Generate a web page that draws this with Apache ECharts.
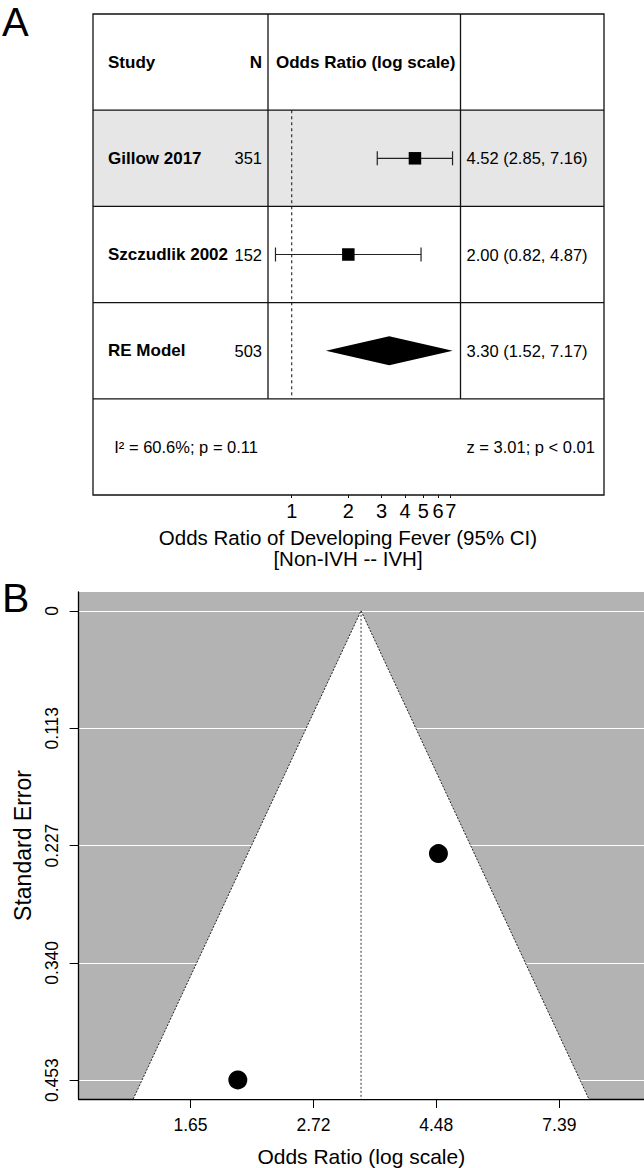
<!DOCTYPE html>
<html><head><meta charset="utf-8">
<script src="https://cdn.jsdelivr.net/npm/echarts@6/dist/echarts.min.js"></script>
<style>html,body{margin:0;padding:0;background:#fff}#c{width:644px;height:1168px}</style>
</head><body><div id="c"></div>
<script>
// ---------- data ----------
const studyNames = ['Gillow 2017', 'Szczudlik 2002'];
const studyN = [351, 152];
const studyOR = [4.52, 2.00];
const studyLower = [2.85, 0.82];
const studyUpper = [7.16, 4.87];
const modelName = 'RE Model';
const modelN = 503;
const modelOR = [3.30];
const modelLower = [1.52];
const modelUpper = [7.17];
const hetText = 'I² = 60.6%; p = 0.11';
const testText = 'z = 3.01; p < 0.01';
const forestTickLabels = [1, 2, 3, 4, 5, 6, 7];
const studySE = [0.235, 0.454];
const funnelXTickLabels = ['1.65', '2.72', '4.48', '7.39'];
const seTickValues = [0, 0.1136, 0.2272, 0.3407, 0.4543];
const seTickLabels = ['0', '0.113', '0.227', '0.340', '0.453'];

// ---------- layout ----------
const FONT = '"Liberation Sans", Arial, Helvetica, sans-serif';
const T_LEFT = 93, T_RIGHT = 604, T_TOP = 14, ROW_H = 96.2, NROWS = 5;
const P_LEFT = 268, P_RIGHT = 460.5;
const forestLnMin = -0.290, forestLnMax = 2.066;
const funnelLnMin = 0.046, funnelLnMax = 2.344;
const seMin = -0.0182, seMax = 0.4725;

const rowKeys = ['header', ...studyNames, modelName, 'stats'];
const ln = Math.log;
const fmt2 = v => v.toFixed(2);
const ciTexts = ['',
  ...studyOR.map((v, i) => `${fmt2(v)} (${fmt2(studyLower[i])}, ${fmt2(studyUpper[i])})`),
  `${fmt2(modelOR[0])} (${fmt2(modelLower[0])}, ${fmt2(modelUpper[0])})`,
  testText];

const chart = echarts.init(document.getElementById('c'), null, {renderer: 'svg'});

const graphics = [];
// gray shading of first study row
graphics.push({type: 'rect', z: 0, shape: {x: T_LEFT, y: T_TOP + ROW_H, width: T_RIGHT - T_LEFT, height: ROW_H},
  style: {fill: '#e6e6e6'}});
// frame
graphics.push({type: 'rect', z: 10, shape: {x: T_LEFT, y: T_TOP, width: T_RIGHT - T_LEFT, height: ROW_H * NROWS},
  style: {fill: 'none', stroke: '#111', lineWidth: 1.3}});
for (let k = 1; k < NROWS; k++) {
  graphics.push({type: 'line', z: 10, shape: {x1: T_LEFT, y1: T_TOP + k * ROW_H, x2: T_RIGHT, y2: T_TOP + k * ROW_H},
    style: {stroke: '#111', lineWidth: 1.3}});
}
[P_LEFT, P_RIGHT].forEach(x => graphics.push({type: 'line', z: 10,
  shape: {x1: x, y1: T_TOP, x2: x, y2: T_TOP + 4 * ROW_H}, style: {stroke: '#111', lineWidth: 1.3}}));
// header of plot column
graphics.push({type: 'text', z: 10, x: 276, y: T_TOP + ROW_H / 2,
  style: {text: 'Odds Ratio (log scale)', font: `bold 17px ${FONT}`, fill: '#000', textAlign: 'left', textVerticalAlign: 'middle'}});
// forest axis title
graphics.push({type: 'text', z: 10, x: 348, y: 537,
  style: {text: 'Odds Ratio of Developing Fever (95% CI)', font: `20.5px ${FONT}`, fill: '#000', textAlign: 'center', textVerticalAlign: 'middle'}});
graphics.push({type: 'text', z: 10, x: 348, y: 558,
  style: {text: '[Non-IVH -- IVH]', font: `20.5px ${FONT}`, fill: '#000', textAlign: 'center', textVerticalAlign: 'middle'}});
// panel letters
graphics.push({type: 'text', z: 10, x: 2, y: 22,
  style: {text: 'A', font: `40px ${FONT}`, fill: '#000', textAlign: 'left', textVerticalAlign: 'middle'}});
graphics.push({type: 'text', z: 10, x: 2, y: 598,
  style: {text: 'B', font: `41px ${FONT}`, fill: '#000', textAlign: 'left', textVerticalAlign: 'middle'}});

const option = {
  animation: false,
  backgroundColor: '#fff',
  textStyle: {fontFamily: FONT},
  graphic: graphics,
  grid: [
    {left: P_LEFT, top: T_TOP, width: P_RIGHT - P_LEFT, height: ROW_H * NROWS, containLabel: false},
    {left: 78.6, right: 0, top: 592, bottom: 69, show: true, backgroundColor: '#b3b3b3', borderWidth: 0}
  ],
  xAxis: [
    {type: 'value', gridIndex: 0, min: forestLnMin, max: forestLnMax, position: 'bottom',
      axisLine: {show: false}, splitLine: {show: false},
      axisTick: {show: true, inside: false, length: 3, lineStyle: {color: '#111'}, customValues: forestTickLabels.map(v => ln(v))},
      axisLabel: {show: true, margin: 6, fontSize: 20, color: '#000', fontFamily: FONT,
        customValues: forestTickLabels.map(v => ln(v)), formatter: v => String(Math.round(Math.exp(v)))}},
    {type: 'value', gridIndex: 1, min: funnelLnMin, max: funnelLnMax, position: 'bottom',
      axisLine: {show: true, onZero: false, lineStyle: {color: '#000', width: 1.3}},
      splitLine: {show: false},
      axisTick: {show: true, length: 9, lineStyle: {color: '#000'}, customValues: funnelXTickLabels.map(s => ln(parseFloat(s)))},
      axisLabel: {margin: 17, fontSize: 17.5, color: '#000', fontFamily: FONT,
        customValues: funnelXTickLabels.map(s => ln(parseFloat(s))),
        formatter: v => Math.exp(v).toFixed(2)},
      name: 'Odds Ratio (log scale)', nameLocation: 'middle', nameGap: 47,
      nameTextStyle: {fontSize: 21, color: '#000', fontFamily: FONT}}
  ],
  yAxis: [
    {type: 'category', gridIndex: 0, inverse: true, data: rowKeys, position: 'left',
      axisLine: {show: false}, axisTick: {show: false}, splitLine: {show: false},
      axisLabel: {interval: 0, margin: 6, color: '#000', fontSize: 16.5, fontFamily: FONT,
        formatter: (v, i) => {
          if (i === 0) return `{nb|Study}{nbr|N}`;
          if (i === NROWS - 1) return `{stat|${hetText}}`;
          const name = i <= studyNames.length ? studyNames[i - 1] : modelName;
          const n = i <= studyNames.length ? studyN[i - 1] : modelN;
          return `{nb|${name}}{n|${n}}`;
        },
        rich: {
          nb: {width: 120, align: 'left', fontWeight: 'bold', fontSize: 17, color: '#000', fontFamily: FONT},
          nbr: {width: 34, align: 'right', fontWeight: 'bold', fontSize: 17, color: '#000', fontFamily: FONT},
          n: {width: 34, align: 'right', fontSize: 16.5, color: '#000', fontFamily: FONT},
          stat: {fontSize: 16.5, color: '#000', fontFamily: FONT, padding: [0, 4, 0, 0]}
        }}},
    {type: 'category', gridIndex: 0, inverse: true, data: rowKeys, position: 'right',
      axisLine: {show: false}, axisTick: {show: false}, splitLine: {show: false},
      axisLabel: {interval: 0, margin: 6, color: '#000', fontSize: 16.5, fontFamily: FONT,
        formatter: (v, i) => ciTexts[i]}},
    {type: 'value', gridIndex: 1, inverse: true, min: seMin, max: seMax,
      axisLine: {show: true, onZero: false, lineStyle: {color: '#000', width: 1.3}},
      axisTick: {show: true, length: 9, lineStyle: {color: '#000'}, customValues: seTickValues},
      axisLabel: {rotate: 90, margin: 18, fontSize: 17.5, color: '#000', fontFamily: FONT,
        customValues: seTickValues, formatter: v => seTickLabels[seTickValues.indexOf(v)] ?? v.toFixed(3)},
      splitLine: {show: true, lineStyle: {color: '#ffffff', width: 1.2}},
      name: 'Standard Error', nameLocation: 'middle', nameGap: 42, nameRotate: 90,
      nameTextStyle: {fontSize: 23, color: '#000', fontFamily: FONT}}
  ],
  series: [
    // reference line at OR = 1
    {type: 'custom', xAxisIndex: 0, yAxisIndex: 0, z: 3, silent: true,
      data: [[ln(1), 1, studyNames.length + 1]],
      renderItem: (params, api) => {
        const band = api.size([0, 1])[1];
        const p1 = api.coord([api.value(0), api.value(1)]);
        const p2 = api.coord([api.value(0), api.value(2)]);
        return {type: 'line', shape: {x1: p1[0], y1: p1[1] - band / 2, x2: p2[0], y2: p2[1] + band / 2},
          style: {stroke: '#333', lineWidth: 1.2, lineDash: [3, 3]}};
      }},
    // studies
    {type: 'custom', xAxisIndex: 0, yAxisIndex: 0, z: 4, silent: true,
      data: studyOR.map((v, i) => [ln(v), ln(studyLower[i]), ln(studyUpper[i]), i + 1]),
      encode: {x: [0, 1, 2], y: 3},
      renderItem: (params, api) => {
        const r = api.value(3);
        const c = api.coord([api.value(0), r]);
        const lo = api.coord([api.value(1), r]);
        const hi = api.coord([api.value(2), r]);
        const cap = 7, sq = 12.5;
        const ls = {stroke: '#222', lineWidth: 1.2};
        return {type: 'group', children: [
          {type: 'line', shape: {x1: lo[0], y1: c[1], x2: hi[0], y2: c[1]}, style: ls},
          {type: 'line', shape: {x1: lo[0], y1: c[1] - cap, x2: lo[0], y2: c[1] + cap}, style: ls},
          {type: 'line', shape: {x1: hi[0], y1: c[1] - cap, x2: hi[0], y2: c[1] + cap}, style: ls},
          {type: 'rect', shape: {x: c[0] - sq / 2, y: c[1] - sq / 2, width: sq, height: sq}, style: {fill: '#000'}}
        ]};
      }},
    // summary diamond
    {type: 'custom', xAxisIndex: 0, yAxisIndex: 0, z: 4, silent: true,
      data: modelOR.map((v, i) => [ln(v), ln(modelLower[i]), ln(modelUpper[i]), studyNames.length + 1]),
      encode: {x: [0, 1, 2], y: 3},
      renderItem: (params, api) => {
        const r = api.value(3);
        const c = api.coord([api.value(0), r]);
        const lo = api.coord([api.value(1), r]);
        const hi = api.coord([api.value(2), r]);
        const h = 14.5;
        return {type: 'polygon', shape: {points: [[lo[0], c[1]], [c[0], c[1] - h], [hi[0], c[1]], [c[0], c[1] + h]]},
          style: {fill: '#000'}};
      }},
    // funnel region
    {type: 'custom', xAxisIndex: 1, yAxisIndex: 2, z: 2, silent: true, clip: true,
      data: [[ln(modelOR[0]), 0, seMax]],
      renderItem: (params, api) => {
        const c = api.value(0), top = api.value(1), bot = api.value(2);
        const apex = api.coord([c, top]);
        const bl = api.coord([c - 1.96 * bot, bot]);
        const br = api.coord([c + 1.96 * bot, bot]);
        const cb = api.coord([c, bot]);
        const dot = {stroke: '#222', lineWidth: 1, lineDash: [2, 1.5], fill: null};
        return {type: 'group', children: [
          {type: 'polygon', shape: {points: [apex, bl, br]}, style: {fill: '#fff'}},
          {type: 'polyline', shape: {points: [bl, apex, br]}, style: dot},
          {type: 'line', shape: {x1: apex[0], y1: apex[1], x2: cb[0], y2: cb[1]}, style: {stroke: '#333', lineWidth: 1, lineDash: [2, 2]}}
        ]};
      }},
    // studies on funnel
    {type: 'scatter', xAxisIndex: 1, yAxisIndex: 2, z: 5, silent: true, symbol: 'circle', symbolSize: 19,
      itemStyle: {color: '#000', opacity: 1},
      data: studyOR.map((v, i) => [ln(v), studySE[i]])}
  ]
};
chart.setOption(option);
</script>
</body></html>
